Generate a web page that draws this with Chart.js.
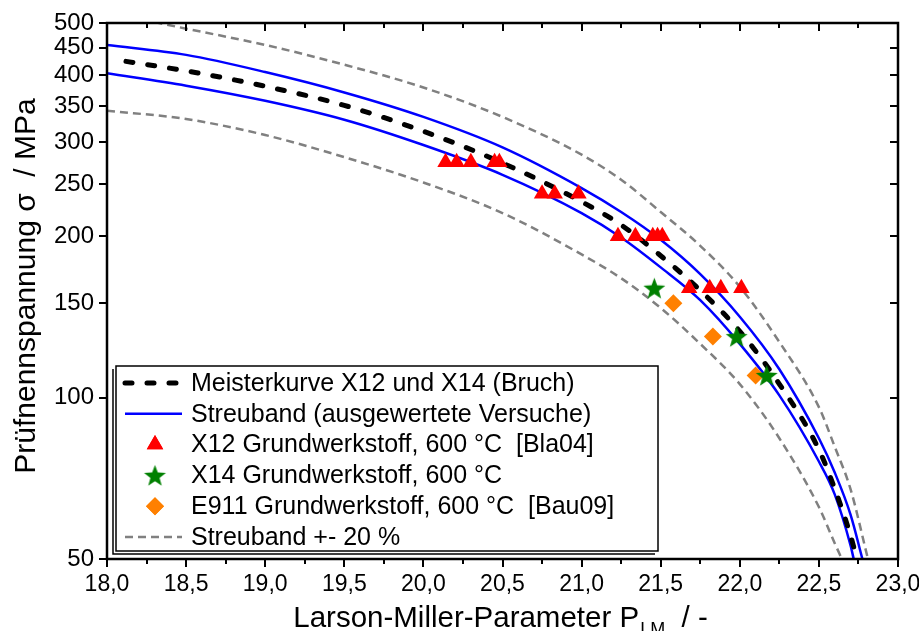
<!DOCTYPE html>
<html>
<head>
<meta charset="utf-8">
<script src="https://cdn.jsdelivr.net/npm/chart.js@4.4.1/dist/chart.umd.min.js"></script>
<style>
    html, body { margin: 0; padding: 0; background: #fff; }
</style>
</head>
<body>
<canvas id="chart" width="919" height="631"></canvas>
<script>
const FONT = "'Liberation Sans', Arial, sans-serif";

// ---------------- DATA ----------------
const xTicks = [18.0, 18.5, 19.0, 19.5, 20.0, 20.5, 21.0, 21.5, 22.0, 22.5, 23.0];
const yTicks = [50, 100, 150, 200, 250, 300, 350, 400, 450, 500];

const legendLabels = [
    "Meisterkurve X12 und X14 (Bruch)",
    "Streuband (ausgewertete Versuche)",
    "X12 Grundwerkstoff, 600 °C  [Bla04]",
    "X14 Grundwerkstoff, 600 °C",
    "E911 Grundwerkstoff, 600 °C  [Bau09]",
    "Streuband +- 20 %"
];

// master curve
const masterX = [18.12, 18.5, 19.0, 19.5, 20.0, 20.5, 21.0, 21.25, 21.5, 21.75, 22.0, 22.25, 22.5, 22.6, 22.7, 22.74];
const masterY = [424, 407, 381, 351, 314, 274, 232, 210, 184, 158.5, 133, 106, 80, 67.6, 55.3, 50];

// scatter band of the evaluated tests
const bandUpX = [18.0, 18.5, 19.0, 19.5, 20.0, 20.5, 21.0, 21.25, 21.5, 21.75, 22.0, 22.25, 22.5, 22.6, 22.7, 22.775];
const bandUpY = [455, 436, 405, 371, 334, 293, 246, 222, 197, 170, 141.6, 113, 84, 72.5, 60.5, 50];
const bandLowX = [18.0, 18.5, 19.0, 19.5, 20.0, 20.5, 21.0, 21.25, 21.5, 21.75, 22.0, 22.25, 22.5, 22.6, 22.7, 22.72];
const bandLowY = [403, 382, 358, 330, 296, 260.5, 221, 199, 175, 152, 126, 101, 76, 66, 53, 50];

// +-20 % band
const plusX = [18.3, 18.5, 19.0, 19.5, 20.0, 20.5, 21.0, 21.25, 21.5, 21.75, 22.0, 22.25, 22.5, 22.6, 22.7, 22.81];
const plusY = [502, 488, 455, 418, 379, 334, 284, 255, 222, 192, 161, 127, 96, 81, 67.5, 50];
const minusX = [18.0, 18.5, 19.0, 19.5, 20.0, 20.5, 21.0, 21.25, 21.5, 21.75, 22.0, 22.25, 22.5, 22.6, 22.645];
const minusY = [343, 331, 309, 281, 252, 221, 185, 167, 147, 126, 106, 84, 62.5, 53.5, 50];

// test results
const x12X = [20.14, 20.21, 20.30, 20.45, 20.48, 20.75, 20.83, 20.98, 21.23, 21.34, 21.45, 21.48, 21.51, 21.68, 21.81, 21.88, 22.01];
const x12Y = [275, 275, 275, 275, 275, 240, 240, 240, 200, 200, 200, 200, 200, 160, 160, 160, 160];
const x14X = [21.46, 21.98, 22.17];
const x14Y = [160, 130, 110];
const e911X = [21.58, 21.83, 22.10];
const e911Y = [150, 130, 110];

// ---------------- HELPERS ----------------
function toPoints(xs, ys) {
    return xs.map((x, i) => ({ x: x, y: ys[i] }));
}

function fmtComma(v) {
    return v.toFixed(1).replace(".", ",");
}

// filled five point star used as point style
function makeStar(color, outer, inner) {
    const c = document.createElement("canvas");
    const s = Math.ceil(outer * 2 + 2);
    c.width = s;
    c.height = s;
    const g = c.getContext("2d");
    g.fillStyle = color;
    g.beginPath();
    for (let i = 0; i < 10; i++) {
        const r = i % 2 === 0 ? outer : inner;
        const a = -Math.PI / 2 + i * Math.PI / 5;
        const px = s / 2 + Math.cos(a) * r;
        const py = s / 2 + 1 + Math.sin(a) * r;
        if (i === 0) g.moveTo(px, py);
        else g.lineTo(px, py);
    }
    g.closePath();
    g.fill();
    return c;
}

const starImg = makeStar("#008000", 11.5, 4.8);

// ---------------- DATASETS ----------------
const curve = (label, xs, ys, color, width, dash, cap) => ({
    label: label,
    data: toPoints(xs, ys),
    showLine: true,
    borderColor: color,
    borderWidth: width,
    borderDash: dash,
    borderCapStyle: cap || "butt",
    pointRadius: 0,
    cubicInterpolationMode: "monotone",
    order: 2
});

const datasets = [
    curve(legendLabels[0], masterX, masterY, "#000000", 5, [7, 15], "round"),
    curve(legendLabels[1], bandUpX, bandUpY, "#0000ff", 2.5, []),
    curve(legendLabels[1], bandLowX, bandLowY, "#0000ff", 2.5, []),
    curve(legendLabels[5], plusX, plusY, "#808080", 2.5, [8, 5]),
    curve(legendLabels[5], minusX, minusY, "#808080", 2.5, [8, 5]),
    {
        label: legendLabels[2],
        data: toPoints(x12X, x12Y),
        pointStyle: "triangle",
        pointRadius: 9.5,
        pointBorderWidth: 0,
        backgroundColor: "#ff0000",
        borderColor: "#ff0000",
        order: 1
    },
    {
        label: legendLabels[3],
        data: toPoints(x14X, x14Y),
        pointStyle: starImg,
        pointRadius: 11,
        order: 0
    },
    {
        label: legendLabels[4],
        data: toPoints(e911X, e911Y),
        pointStyle: "rectRot",
        pointRadius: 9,
        pointBorderWidth: 0,
        backgroundColor: "#ff8000",
        borderColor: "#ff8000",
        order: 1
    }
];

// ---------------- FRAME, TICKS, TITLES, LEGEND ----------------
const framePlugin = {
    id: "frame",
    afterDraw(chart) {
        const ctx = chart.ctx;
        const a = chart.chartArea;
        const xs = chart.scales.x;
        const ys = chart.scales.y;

        ctx.save();
        ctx.strokeStyle = "#000";
        ctx.lineWidth = 2;

        // x ticks, every 0.25 with longer marks on labels
        for (let v = 18; v <= 23.001; v += 0.25) {
            const px = Math.round(xs.getPixelForValue(v));
            const major = Math.abs(v * 2 - Math.round(v * 2)) < 1e-6;
            const len = major ? 8 : 5;
            ctx.beginPath();
            ctx.moveTo(px, a.bottom);
            ctx.lineTo(px, a.bottom + len);
            ctx.moveTo(px, a.top);
            ctx.lineTo(px, a.top + len);
            ctx.stroke();
        }
        // y ticks
        yTicks.forEach(v => {
            const py = Math.round(ys.getPixelForValue(v));
            ctx.beginPath();
            ctx.moveTo(a.left - 8, py);
            ctx.lineTo(a.left, py);
            ctx.moveTo(a.right, py);
            ctx.lineTo(a.right - 8, py);
            ctx.stroke();
        });

        ctx.lineWidth = 2.5;
        ctx.strokeRect(a.left, a.top, a.right - a.left, a.bottom - a.top);

        // axis titles
        ctx.fillStyle = "#000";
        ctx.textBaseline = "alphabetic";
        const main = "Larson-Miller-Parameter P";
        const sub = "LM";
        const tail = "  / -";
        ctx.font = "29.5px " + FONT;
        const wMain = ctx.measureText(main).width;
        const wTail = ctx.measureText(tail).width;
        ctx.font = "18px " + FONT;
        const wSub = ctx.measureText(sub).width;
        let tx = 500 - (wMain + wSub + wTail) / 2;
        const base = 627;
        ctx.textAlign = "left";
        ctx.font = "29.5px " + FONT;
        ctx.fillText(main, tx, base);
        tx += wMain;
        ctx.font = "18px " + FONT;
        ctx.fillText(sub, tx + 1, base + 8);
        tx += wSub + 1;
        ctx.font = "29.5px " + FONT;
        ctx.fillText(tail, tx, base);

        ctx.save();
        ctx.translate(35, 286);
        ctx.rotate(-Math.PI / 2);
        ctx.textAlign = "center";
        ctx.font = "30px " + FONT;
        ctx.fillText("Prüfnennspannung σ  / MPa", 0, 0);
        ctx.restore();

        ctx.restore();
    },
    afterDatasetsDraw(chart) {
        const ctx = chart.ctx;
        const box = { left: 116, top: 366, right: 658, bottom: 551 };
        ctx.save();
        ctx.fillStyle = "#fff";
        ctx.fillRect(box.left, box.top, box.right - box.left, box.bottom - box.top);
        ctx.strokeStyle = "#000";
        ctx.lineWidth = 1.5;
        ctx.strokeRect(box.left, box.top, box.right - box.left, box.bottom - box.top);
        ctx.beginPath();
        ctx.moveTo(box.left - 3, box.top + 3);
        ctx.lineTo(box.left - 3, box.bottom + 3);
        ctx.lineTo(box.right - 3, box.bottom + 3);
        ctx.stroke();

        const rowY = i => box.top + 17 + i * 30.8;
        const sx0 = 125, sx1 = 182, mx = 155;

        const sample = (ds, y) => {
            ctx.save();
            ctx.strokeStyle = ds.borderColor;
            ctx.lineWidth = ds.borderWidth;
            ctx.setLineDash(ds.borderDash);
            ctx.lineCap = ds.borderCapStyle;
            ctx.beginPath();
            ctx.moveTo(sx0, y);
            ctx.lineTo(sx1, y);
            ctx.stroke();
            ctx.restore();
        };
        const marker = (ds, y) => {
            Chart.helpers.drawPoint(ctx, {
                pointStyle: ds.pointStyle,
                radius: ds.pointRadius,
                rotation: 0,
                borderWidth: 0
            }, mx, y);
            ctx.fillStyle = ds.backgroundColor;
            if (typeof ds.pointStyle === "string") ctx.fill();
        };

        const ds = chart.data.datasets;
        sample(ds[0], rowY(0));
        sample(ds[1], rowY(1));
        [5, 6, 7].forEach((k, j) => {
            ctx.save();
            ctx.fillStyle = ds[k].backgroundColor || "#000";
            ctx.strokeStyle = ds[k].borderColor || "#000";
            marker(ds[k], rowY(2 + j));
            ctx.restore();
        });
        sample(ds[3], rowY(5));

        ctx.fillStyle = "#000";
        ctx.font = "25px " + FONT;
        ctx.textAlign = "left";
        ctx.textBaseline = "middle";
        legendLabels.forEach((t, i) => ctx.fillText(t, 191, rowY(i) + 1));
        ctx.restore();
    }
};

// no extra room for the outermost tick labels, the frame is fixed
const noLabelPadding = s => {
    s.paddingLeft = 0;
    s.paddingRight = 0;
    s.paddingTop = 0;
    s.paddingBottom = 0;
};

// ---------------- CREATE CHART ----------------
const chart = new Chart(document.getElementById("chart"), {
    type: "scatter",
    data: { datasets: datasets },
    options: {
        responsive: false,
        animation: false,
        devicePixelRatio: 1,
        layout: { padding: { left: 0, right: 21, top: 23, bottom: 0 } },
        plugins: {
            legend: { display: false },
            tooltip: { enabled: false }
        },
        scales: {
            x: {
                type: "linear",
                min: 18,
                max: 23,
                afterBuildTicks: s => { s.ticks = xTicks.map(v => ({ value: v })); },
                afterFit: s => { s.height = 72; noLabelPadding(s); },
                grid: { display: false, drawTicks: false },
                border: { display: false },
                ticks: {
                    padding: 12,
                    maxRotation: 0,
                    autoSkip: false,
                    color: "#000",
                    font: { family: FONT, size: 23 },
                    callback: v => fmtComma(v)
                }
            },
            y: {
                type: "logarithmic",
                min: 50,
                max: 500,
                afterBuildTicks: s => { s.ticks = yTicks.map(v => ({ value: v })); },
                afterFit: s => { s.width = 107; noLabelPadding(s); },
                grid: { display: false, drawTicks: false },
                border: { display: false },
                ticks: {
                    padding: 13,
                    autoSkip: false,
                    color: "#000",
                    font: { family: FONT, size: 24 },
                    callback: v => String(v)
                }
            }
        }
    },
    plugins: [framePlugin]
});
</script>
</body>
</html>
